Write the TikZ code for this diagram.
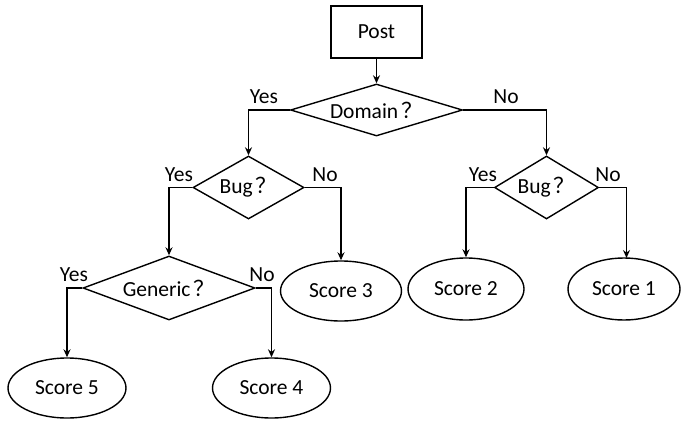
\documentclass[tikz,border=0pt]{standalone}
\usepackage{fontspec}
\setmainfont{Carlito}
\newfontfamily\cjk{Noto Sans CJK SC}
\usetikzlibrary{shapes.geometric,arrows.meta}
\newcommand{\qm}{\hspace{0.15em}{\cjk ？}}
\begin{document}
\begin{tikzpicture}[x=1pt,y=-1pt,
  every node/.style={font=\fontsize{21.5}{24}\selectfont},
  boxnode/.style={draw,line width=1.4pt,minimum width=91pt,minimum height=52pt,inner sep=0pt},
  dia/.style={draw,line width=1.4pt,diamond,inner sep=0pt},
  ell/.style={draw,line width=1.4pt,ellipse,minimum width=118pt,minimum height=60pt,inner sep=0pt},
  conn/.style={line width=1.4pt,-{Stealth[length=8pt,width=7pt]}},
  lbl/.style={inner sep=0pt}]
\useasboundingbox (0,0) rectangle (681,421);
\node[boxnode] (post) at (376.5,32) {Post};
\node[dia,minimum width=172pt,minimum height=52pt] (dom) at (376.5,110) {};
\node[lbl] (domt) at (376.5,110) {Domain\qm};
\node[dia,minimum width=111pt,minimum height=63pt] (bugl) at (248.5,187.5) {};
\node[lbl] (buglt) at (248.5,187.5) {Bug\qm};
\node[dia,minimum width=104pt,minimum height=63pt] (bugr) at (546.5,187.5) {};
\node[lbl] (bugrt) at (546.5,187.5) {Bug\qm};
\node[dia,minimum width=172pt,minimum height=64pt] (gen) at (169,288) {};
\node[lbl] (gent) at (169,288) {Generic\qm};
\node[ell,minimum width=121pt] (s3) at (341,291) {Score 3};
\node[ell,minimum width=116pt,minimum height=62pt] (s2) at (466,289) {Score 2};
\node[ell,minimum width=112pt,minimum height=62pt] (s1) at (624,289) {Score 1};
\node[ell] (s5) at (67,388) {Score 5};
\node[ell] (s4) at (271.5,388) {Score 4};
\draw[conn] (post) -- (dom);
\draw[conn] (dom.west) -| (bugl.north);
\draw[conn] (dom.east) -| (bugr.north);
\draw[conn] (bugl.west) -| (gen.north);
\draw[conn] (bugl.east) -| (s3.north);
\draw[conn] (bugr.west) -| (s2.north);
\draw[conn] (bugr.east) -| (626.5,258);
\draw[conn] (gen.west) -| (s5.north);
\draw[conn] (gen.east) -| (s4.north);
\node[lbl] (y1) at (264,97) {Yes};
\node[lbl] (n1) at (506,97) {No};
\node[lbl] (y2) at (179,175) {Yes};
\node[lbl] (n2) at (325,175) {No};
\node[lbl] (y3) at (483,175) {Yes};
\node[lbl] (n3) at (608,175) {No};
\node[lbl] (y4) at (74,275) {Yes};
\node[lbl] (n4) at (262,275) {No};
\end{tikzpicture}
\end{document}
